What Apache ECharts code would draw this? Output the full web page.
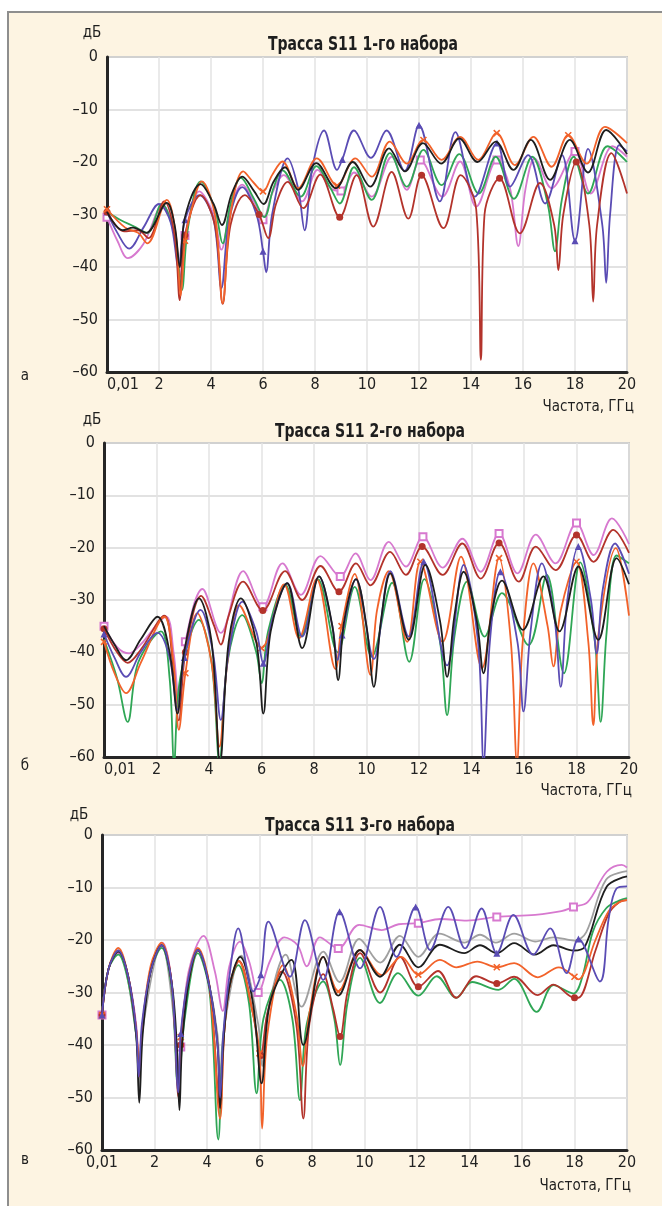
<!DOCTYPE html>
<html><head><meta charset="utf-8">
<script src="https://cdn.jsdelivr.net/npm/echarts@6/dist/echarts.min.js"></script>
<style>html,body{margin:0;padding:0;background:#fff}#c{width:662px;height:1206px}</style>
</head><body><div id="c"></div>
<script>
// ---------- DATA (frequency GHz, S11 dB) ----------
const xTicks = [0, 2, 4, 6, 8, 10, 12, 14, 16, 18, 20];
const yTicks = [0, -10, -20, -30, -40, -50, -60];
const titles = ['Трасса S11 1-го набора', 'Трасса S11 2-го набора', 'Трасса S11 3-го набора'];
const panelLetters = ['а', 'б', 'в'];

// Panel 1
const p1Blue = [[0,-29.5],[0.4,-33.5],[0.85,-36.5],[1.4,-32.5],[2.0,-28],[2.45,-31.5],[2.75,-40],[3.0,-31],[3.55,-26.3],[4.1,-31],[4.4,-44],[4.7,-31],[5.2,-24.8],[5.75,-30],[6.0,-37],[6.12,-41],[6.35,-30],[6.95,-19.3],[7.35,-25],[7.6,-33],[7.9,-21],[8.35,-14],[8.85,-21.5],[9.05,-19.5],[9.5,-14],[10.15,-19.2],[10.75,-14],[11.45,-21.7],[12.0,-13],[12.8,-27.5],[13.4,-14.3],[14.15,-26.6],[15.0,-16.4],[15.5,-24.7],[16.2,-18.7],[16.85,-27.9],[17.5,-18.7],[18.0,-35],[18.5,-17.5],[19.05,-32],[19.2,-43],[19.35,-30],[19.7,-16.8],[20,-18]];
const p1Black = [[0,-29.5],[0.6,-33],[1.0,-32.5],[1.5,-33.5],[2.3,-27.8],[2.6,-32],[2.8,-40],[3.0,-30.5],[3.6,-24.2],[4.1,-28],[4.42,-32],[4.8,-26],[5.2,-22.8],[5.65,-25.5],[6.02,-28],[6.4,-23.8],[6.85,-21],[7.35,-25.3],[8.05,-20.2],[8.8,-25],[9.45,-20],[10.12,-24.7],[10.85,-17.4],[11.46,-21.8],[12.15,-16.4],[12.85,-20.3],[13.55,-15.5],[14.25,-20],[14.95,-16.1],[15.63,-21.5],[16.3,-15.8],[17.04,-23.4],[17.8,-15.8],[18.5,-22],[19.2,-13.9],[20,-18.5]];
const p1Green = [[0,-29.5],[0.5,-31],[1.05,-32.3],[1.55,-33.5],[2.1,-28],[2.6,-34],[2.88,-44.4],[3.1,-33],[3.6,-23.7],[4.15,-29],[4.45,-35.5],[4.75,-28],[5.15,-23],[5.65,-27],[6.05,-30.5],[6.4,-25],[6.75,-21.6],[7.45,-26.6],[8.05,-20.8],[8.6,-25],[8.95,-27.9],[9.5,-21],[10.18,-27.2],[10.88,-18.3],[11.53,-24.7],[12.17,-17.7],[12.87,-24.4],[13.55,-18.5],[14.3,-26],[14.95,-19],[15.65,-27],[16.35,-19],[16.95,-28],[17.23,-37],[17.5,-27],[17.95,-19],[18.5,-26],[19.25,-17],[20,-20]];
const p1Pink = [[0,-30.5],[0.4,-35],[0.8,-38.3],[1.4,-35.6],[2.15,-28.2],[2.55,-33],[2.8,-42],[3.0,-34],[3.55,-25.6],[4.1,-30],[4.4,-36.7],[4.75,-29],[5.2,-24.3],[5.7,-28],[6.0,-31],[6.35,-26],[6.8,-22.5],[7.5,-27.5],[8.1,-21.5],[8.6,-25],[9.0,-25.5],[9.5,-22],[10.18,-26.6],[10.95,-19],[11.53,-25.3],[12.05,-19.6],[12.9,-26.6],[13.58,-19.9],[14.2,-28.5],[15.0,-19.6],[15.5,-25],[15.82,-36],[16.1,-25],[16.46,-19.3],[17.1,-25],[18.0,-18],[18.6,-26],[19.45,-17],[20,-19]];
const p1Orange = [[0,-29],[0.7,-32.5],[1.2,-33.5],[1.55,-35.5],[2.3,-27.2],[2.65,-34],[2.83,-45.5],[3.0,-35],[3.2,-30],[3.65,-23.7],[4.15,-30],[4.45,-46.9],[4.75,-30],[5.24,-21.8],[5.65,-24],[6.0,-25.6],[6.35,-22.5],[6.75,-19.9],[7.35,-25],[8.07,-19.3],[8.85,-24.5],[9.55,-19.3],[10.18,-22.8],[10.88,-16.1],[11.53,-20.3],[12.17,-15.8],[12.87,-19.6],[13.58,-15.2],[14.28,-19.6],[14.99,-14.5],[15.69,-20.6],[16.4,-15.2],[17.1,-20.9],[17.74,-14.9],[18.45,-20.3],[19.15,-13.3],[20,-16.4]];
const p1DarkRed = [[0,-29.5],[0.65,-33.2],[1.2,-33],[1.6,-34.5],[2.2,-27.5],[2.6,-34],[2.8,-46.3],[3.0,-34],[3.6,-26.3],[4.15,-32],[4.45,-47],[4.75,-32],[5.3,-26.3],[5.85,-30],[6.2,-34.5],[6.5,-28],[6.95,-23.8],[7.55,-28.8],[8.2,-22.4],[8.95,-30.5],[9.6,-22.5],[10.24,-32.3],[10.95,-21.9],[11.59,-30.8],[12.1,-22.5],[12.94,-32.6],[13.6,-22.5],[14.2,-29],[14.38,-57.7],[14.52,-30],[15.1,-23.1],[15.88,-33.6],[16.65,-24],[17.2,-32],[17.36,-40.6],[17.55,-30],[18.05,-20],[18.55,-32],[18.7,-46.6],[18.85,-32],[19.4,-18.3],[20,-26]];

// Panel 2
const p2Blue = [[0,-36.5],[0.4,-41],[0.84,-44.7],[1.4,-40],[2.04,-36.3],[2.5,-41],[2.8,-51],[3.06,-41],[3.68,-31.9],[4.15,-40],[4.45,-52.9],[4.75,-40],[5.27,-30.3],[5.8,-36],[6.07,-42.1],[6.4,-34],[6.98,-26.8],[7.55,-37],[8.19,-25.5],[8.7,-35],[8.9,-41.5],[9.07,-36.7],[9.6,-26],[10.28,-41.3],[10.91,-24.5],[11.61,-37],[12.18,-22.7],[13.07,-42.5],[13.7,-23.3],[14.25,-38],[14.46,-61],[14.7,-38],[15.1,-24.6],[15.75,-38],[15.98,-51.3],[16.25,-36],[16.68,-23],[17.15,-33],[17.4,-46.6],[17.65,-30],[18.07,-19.8],[18.55,-30],[18.77,-40.2],[19.0,-28],[19.47,-19.2],[20,-25]];
const p2Black = [[0,-35],[0.4,-38.5],[0.84,-41.5],[1.4,-37.5],[2.04,-33.2],[2.5,-40],[2.8,-51.7],[3.05,-40],[3.62,-29.7],[4.1,-38],[4.42,-61],[4.75,-38],[5.21,-29.7],[5.8,-38],[6.07,-51.7],[6.35,-36],[6.98,-26.8],[7.55,-39.2],[8.19,-25.5],[8.7,-35],[8.92,-45.3],[9.15,-34],[9.6,-26],[10.0,-35],[10.28,-46.6],[10.55,-34],[10.91,-24.9],[11.61,-37.6],[12.24,-23.3],[12.8,-34],[13.07,-44.7],[13.35,-33],[13.7,-24.6],[14.2,-34],[14.46,-44],[14.75,-33],[15.16,-26.3],[15.96,-35.7],[16.74,-25.5],[17.35,-36],[18.07,-23.6],[18.83,-37.6],[19.53,-22],[20,-27]];
const p2Green = [[0,-37.5],[0.5,-45],[0.9,-53.3],[1.3,-42],[2.17,-36],[2.5,-45],[2.67,-61],[2.9,-45],[3.62,-33.8],[4.1,-42],[4.4,-61],[4.7,-42],[5.27,-32.9],[5.8,-40],[6.0,-45.9],[6.25,-36],[6.9,-27],[7.5,-37],[8.15,-26],[8.9,-40],[9.55,-27.5],[10.2,-40.8],[10.98,-26.7],[11.63,-41.8],[12.2,-26],[12.8,-38],[13.07,-52],[13.35,-37],[13.83,-26.5],[14.5,-37],[15.16,-28.7],[16.17,-38.6],[16.87,-25.2],[17.52,-44],[18.14,-22.8],[18.7,-38],[18.92,-53.3],[19.15,-36],[19.53,-21.5],[20,-23]];
const p2Orange = [[0,-38],[0.4,-44],[0.84,-47.8],[1.4,-42],[2.3,-33.2],[2.65,-42],[2.85,-54.8],[3.1,-44],[3.55,-32.5],[4.1,-42],[4.4,-58],[4.7,-42],[5.15,-31],[6.0,-39.2],[6.86,-27],[7.43,-37.3],[8.1,-26],[8.82,-43.2],[9.05,-35],[9.55,-25],[10.15,-44.3],[10.4,-32],[10.85,-24.5],[11.55,-38],[12.05,-22.7],[12.9,-38],[13.6,-21.7],[14.4,-43],[15.05,-22],[15.5,-38],[15.73,-61],[15.95,-38],[16.36,-23],[16.9,-35],[17.12,-42.7],[17.4,-32],[18.0,-22.7],[18.45,-38],[18.64,-53.9],[18.85,-36],[19.5,-20.1],[20,-33]];
const p2Pink = [[0,-35],[0.5,-39],[0.96,-40.2],[1.4,-38.5],[2.36,-33.2],[2.65,-40],[2.86,-49.4],[3.1,-38],[3.75,-27.9],[4.45,-36.3],[5.3,-24.5],[6.05,-31.3],[6.8,-23],[7.5,-29],[8.25,-21.6],[9.0,-25.5],[9.58,-21.1],[10.15,-26.2],[10.85,-18.9],[11.5,-23.6],[12.15,-17.9],[12.9,-23.8],[13.65,-18.3],[14.35,-24.6],[15.05,-17.3],[15.75,-24.9],[16.45,-17.5],[17.2,-23],[18.0,-15.3],[18.65,-21.4],[19.35,-14.4],[20,-19.3]];
const p2DarkRed = [[0,-35.5],[0.5,-40],[0.9,-42],[1.4,-39.5],[2.3,-33],[2.6,-41],[2.85,-53],[3.1,-40],[3.7,-29.2],[4.2,-35],[4.45,-38.5],[4.75,-33],[5.3,-26.5],[6.05,-32],[6.9,-24.5],[7.55,-30],[8.25,-23.5],[8.95,-28.4],[9.6,-23],[10.15,-27.2],[10.9,-20.8],[11.5,-25.2],[12.12,-19.8],[12.9,-25.2],[13.65,-19.2],[14.35,-25.9],[15.05,-19.1],[15.8,-26.5],[16.45,-19.8],[17.2,-24.3],[18.0,-17.6],[18.65,-22.7],[19.4,-16.6],[20,-21]];

// Panel 3
const p3Gray = [[0,-34.3],[0.25,-25.5],[0.62,-22.2],[1.3,-38],[1.42,-49],[1.55,-37],[2.27,-21],[2.8,-38],[2.93,-50],[3.05,-38],[3.65,-21.9],[4.4,-38],[4.5,-50],[4.62,-38],[5.3,-23],[5.95,-36],[6.1,-44],[6.3,-34],[7.0,-22.8],[7.6,-32.7],[8.43,-22.2],[9.05,-28],[9.8,-19.8],[10.6,-24.3],[11.35,-19.2],[12.05,-23.2],[12.85,-18.8],[13.8,-20.5],[14.4,-19],[15.0,-20.5],[15.7,-18.8],[16.5,-20.3],[17.2,-19.5],[18.0,-20.1],[18.45,-18.5],[19.2,-8.5],[20,-6.9]];
const p3Black = [[0,-34.3],[0.25,-25.5],[0.62,-22.2],[1.0,-27],[1.3,-38],[1.42,-51],[1.55,-38],[1.85,-26],[2.27,-21],[2.65,-28],[2.85,-40],[2.95,-52.4],[3.05,-40],[3.3,-28],[3.65,-21.9],[4.1,-29],[4.4,-40],[4.5,-52],[4.62,-40],[4.85,-29],[5.26,-23.2],[5.75,-32],[6.08,-47.3],[6.4,-32],[7.22,-23.8],[7.67,-40],[8.43,-23.2],[9.0,-30.6],[9.83,-21.9],[10.59,-27],[11.35,-20.9],[12.05,-25.2],[12.87,-20.9],[13.8,-22.5],[14.4,-21],[15.04,-22.5],[15.7,-20.6],[16.49,-22.8],[17.2,-21],[17.96,-22],[18.4,-21.2],[19.23,-9.8],[20,-7.9]];
const p3Pink = [[0,-34.3],[0.25,-25.5],[0.62,-22.5],[1.0,-27],[1.3,-36],[1.42,-45],[1.55,-36],[1.85,-26],[2.3,-20.5],[2.65,-28],[2.9,-47],[3.0,-40.4],[3.3,-26],[3.87,-19.2],[4.3,-26],[4.6,-33.5],[4.85,-25],[5.26,-20.3],[5.6,-24],[5.95,-30],[6.4,-24],[6.95,-19.5],[7.45,-21],[7.8,-25],[8.3,-19.5],[9.0,-21.6],[9.8,-17.1],[10.65,-18.1],[11.3,-17],[12.05,-16.8],[12.9,-16],[13.9,-16.3],[15.04,-15.6],[16.5,-15.2],[17.5,-14.5],[17.96,-13.7],[18.5,-12.8],[19.23,-7],[19.8,-5.7],[20,-6.2]];
const p3Green = [[0,-34.3],[0.25,-25.5],[0.62,-22.8],[1.0,-28],[1.3,-38],[1.42,-45],[1.55,-36],[1.85,-26],[2.27,-21.5],[2.65,-29],[2.9,-48],[3.15,-35],[3.65,-22.5],[4.1,-30],[4.43,-58],[4.6,-40],[4.85,-29],[5.19,-24.8],[5.6,-32],[5.89,-49.2],[6.15,-35],[6.78,-27.6],[7.25,-35],[7.54,-50.5],[7.8,-36],[8.43,-27.9],[8.85,-35],[9.07,-43.8],[9.35,-32],[9.83,-23.4],[10.59,-32],[11.28,-26.3],[12.05,-30.6],[12.75,-26.9],[13.5,-31],[14.1,-28],[15.1,-29.5],[15.7,-27.4],[16.56,-33.7],[17.2,-28.6],[17.96,-30.2],[18.3,-27],[18.7,-18.4],[19.2,-14],[19.7,-12.5],[20,-12]];
const p3Blue = [[0,-34.3],[0.25,-25.5],[0.62,-22],[1.0,-27],[1.3,-37],[1.4,-46],[1.52,-36],[1.85,-26],[2.27,-21],[2.65,-28],[2.91,-49],[3.0,-37.8],[3.3,-27],[3.65,-21.9],[4.1,-29],[4.4,-40],[4.5,-50],[4.62,-38],[4.85,-27],[5.19,-17.8],[5.76,-29.8],[6.05,-26.6],[6.34,-16.5],[7.16,-27],[7.73,-16.2],[8.43,-27.6],[9.05,-14.6],[9.83,-25.4],[10.59,-13.7],[11.22,-23.2],[11.95,-13.7],[12.5,-21.9],[13.19,-13.7],[13.83,-21.6],[14.46,-14],[15.04,-22.5],[15.67,-15.2],[16.43,-22.8],[17.07,-17.8],[17.7,-26.3],[18.15,-19.8],[18.97,-27.9],[19.3,-16],[19.6,-10.2],[20,-9.8]];
const p3Orange = [[0,-34.3],[0.25,-25.5],[0.62,-21.5],[1.0,-27],[1.3,-37],[1.42,-44],[1.55,-36],[1.85,-25],[2.27,-20.5],[2.65,-28],[2.92,-47],[3.0,-38.5],[3.3,-27],[3.65,-21.5],[4.1,-29],[4.5,-54],[4.65,-38],[4.85,-29],[5.2,-24],[5.75,-34],[6.0,-41.6],[6.1,-55.9],[6.3,-38],[6.9,-24.8],[7.4,-34],[7.65,-44],[7.9,-34],[8.43,-23.2],[9.0,-29.8],[9.83,-21.9],[10.65,-26.7],[11.4,-23.2],[12.05,-26.6],[12.87,-23.8],[13.5,-25.2],[14.3,-24.1],[15.04,-25.2],[15.7,-24.4],[16.6,-27.1],[17.4,-25.2],[18.0,-27],[18.15,-27.5],[18.8,-20],[19.3,-14.5],[19.7,-12.8],[20,-12.4]];
const p3DarkRed = [[0,-34.3],[0.25,-25.5],[0.62,-22],[1.0,-27],[1.3,-37],[1.42,-46],[1.55,-36],[1.85,-26],[2.27,-21],[2.65,-28],[2.92,-50],[3.0,-40],[3.3,-28],[3.65,-22],[4.1,-29],[4.5,-52],[4.65,-38],[4.85,-29],[5.22,-24],[5.75,-34],[6.05,-42],[6.3,-34],[6.85,-26],[7.4,-36],[7.67,-54],[7.9,-36],[8.43,-26.5],[8.8,-33],[9.07,-38.4],[9.35,-30],[9.83,-22.5],[10.6,-30],[11.35,-23.2],[12.05,-28.9],[12.8,-25.9],[13.5,-31],[14.25,-26.9],[15.04,-28.3],[15.7,-27],[16.6,-30.5],[17.2,-28.5],[18.0,-31],[18.15,-31],[18.8,-22],[19.3,-15],[19.7,-12.8],[20,-12.4]];

// ---------- STYLE ----------
const C = {blue:'#5a4cb4', black:'#1e1e1e', green:'#2fa655', orange:'#f2622a', pink:'#d779cf', darkred:'#b3332b', gray:'#a0a0a0'};
const FONT = "'Liberation Sans Narrow','DejaVu Sans Condensed','Roboto Condensed','Liberation Sans',sans-serif";
const CROSS = 'path://M0,0L10,10M10,0L0,10';

const panels = [
  {left:107, right:35, top:57, height:315, series:[['pink',p1Pink,'emptyRect'],['green',p1Green,null],['blue',p1Blue,'triangle'],['darkred',p1DarkRed,'circle'],['orange',p1Orange,CROSS],['black',p1Black,null]], shiftFirst:true},
  {left:104, right:33, top:443, height:314, series:[['pink',p2Pink,'emptyRect'],['darkred',p2DarkRed,'circle'],['green',p2Green,null],['orange',p2Orange,CROSS],['blue',p2Blue,'triangle'],['black',p2Black,null]], shiftFirst:true},
  {left:102, right:35, top:835, height:315, series:[['gray',p3Gray,null],['pink',p3Pink,'emptyRect'],['green',p3Green,null],['darkred',p3DarkRed,'circle'],['orange',p3Orange,CROSS],['black',p3Black,null],['blue',p3Blue,'triangle']], shiftFirst:false}
];

function markerSet(pts){
  const s = new Set();
  for (let m = 0; m <= 18; m += 3){
    let best = -1, bd = 1e9;
    pts.forEach((p,i)=>{const d=Math.abs(p[0]-m); if(d<bd){bd=d;best=i;}});
    if (bd <= 0.3) s.add(best);
  }
  return s;
}

const grids=[], xAxes=[], yAxes=[], series=[];
panels.forEach((P, gi) => {
  grids.push({left:P.left, right:P.right, top:P.top, height:P.height, show:true, backgroundColor:'#ffffff', borderColor:'#a8a8a8', borderWidth:1.5});
  xAxes.push({type:'value', gridIndex:gi, min:xTicks[0], max:xTicks[xTicks.length-1], interval:2,
    axisLine:{show:true, onZero:false, lineStyle:{color:'#262626', width:3}}, axisTick:{show:false},
    splitLine:{show:true, lineStyle:{color:'#e3e3e3', width:1.5}},
    axisLabel:{color:'#222', fontSize:16, fontFamily:FONT, margin:5,
      formatter: v => v===0 ? (P.shiftFirst ? '{f|0,01}' : '0,01') : String(v),
      rich:{f:{fontSize:16, fontFamily:FONT, color:'#222', padding:[0,0,0,32]}}}});
  yAxes.push({type:'value', gridIndex:gi, min:yTicks[yTicks.length-1], max:yTicks[0], interval:10,
    axisLine:{show:true, onZero:false, lineStyle:{color:'#262626', width:3}}, axisTick:{show:false},
    splitLine:{show:true, lineStyle:{color:'#d8d8d8', width:1.5}},
    axisLabel:{color:'#222', fontSize:16, fontFamily:FONT, margin:9, formatter: v => v===0 ? '0' : '–' + Math.abs(v)}});
  P.series.forEach(([name, pts, mk], si) => {
    const col = C[name];
    const ms = markerSet(pts);
    series.push({type:'line', name:name+gi, xAxisIndex:gi, yAxisIndex:gi, data:pts,
      smooth:0.35, silent:true, z:2+si,
      lineStyle:{color:col, width:1.8},
      symbol: mk || 'none', showSymbol: !!mk, showAllSymbol:true,
      symbolSize: (v, p) => ms.has(p.dataIndex) ? (mk===CROSS ? 6 : 7) : 0,
      itemStyle:{color:col, borderColor:col, borderWidth: mk===CROSS ? 1.6 : (mk==='emptyRect' ? 1.3 : 0)}});
  });
});

const texts = [
  {x:363, y:45, t:titles[0], bold:true}, {x:370, y:432, t:titles[1], bold:true}, {x:360, y:826, t:titles[2], bold:true},
  {x:92, y:33, t:'дБ'}, {x:92, y:420, t:'дБ'}, {x:79, y:815, t:'дБ'},
  {x:25, y:376, t:panelLetters[0]}, {x:25, y:766, t:panelLetters[1]}, {x:25, y:1160, t:panelLetters[2]},
  {x:634, y:407, t:'Частота, ГГц', align:'right'}, {x:632, y:791, t:'Частота, ГГц', align:'right'}, {x:631, y:1186, t:'Частота, ГГц', align:'right'}
];
const graphic = [{type:'rect', z:-10, shape:{x:8, y:12, width:680, height:1220}, style:{fill:'#fdf4e2', stroke:'#8e8e8e', lineWidth:2}}];
texts.forEach(o => graphic.push({type:'text', x:o.x, y:o.y, z:10, scaleX: o.bold ? 0.78 : 1,
  style:{text:o.t, fill:'#1e1e1e', font:(o.bold?'bold 20px ':'15px ')+FONT, textAlign:o.align||'center', textVerticalAlign:'middle'}}));

const chart = echarts.init(document.getElementById('c'), null, {renderer:'canvas', width:662, height:1206});
chart.setOption({animation:false, backgroundColor:'#ffffff', graphic, grid:grids, xAxis:xAxes, yAxis:yAxes, series});
</script></body></html>
